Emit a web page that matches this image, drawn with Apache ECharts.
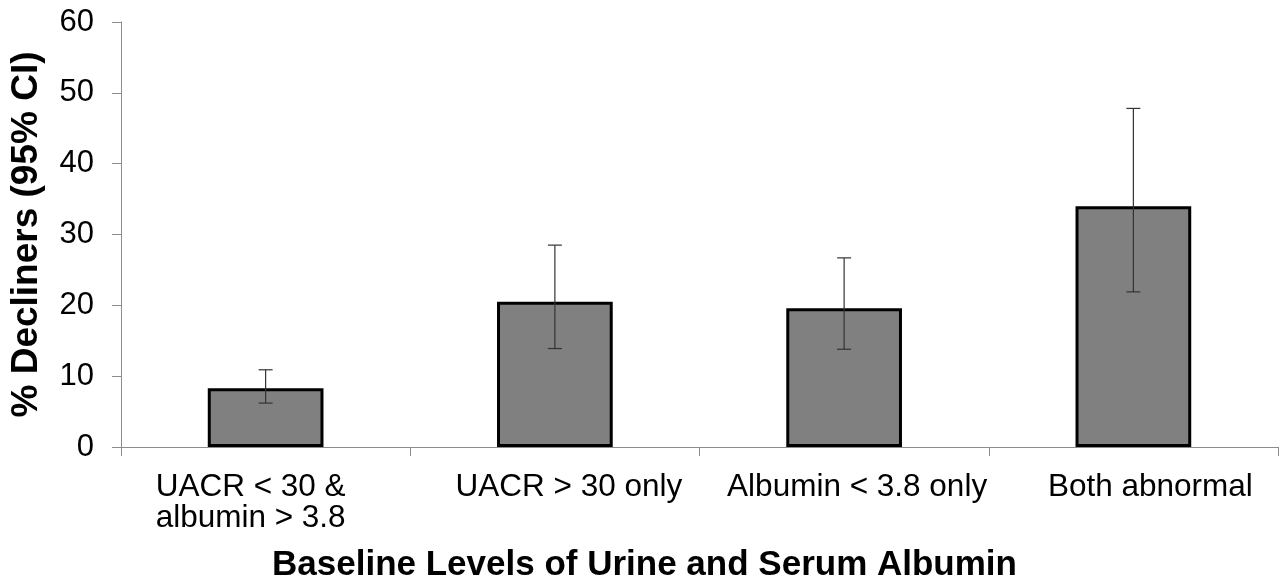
<!DOCTYPE html>
<html><head><meta charset="utf-8">
<script src="https://cdn.jsdelivr.net/npm/echarts@6/dist/echarts.min.js"></script>
<style>html,body{margin:0;padding:0;background:#fff}#c{width:1288px;height:584px}</style>
</head><body><div id="c"></div>
<script>
var categories = ['UACR < 30 &\nalbumin > 3.8', 'UACR > 30 only', 'Albumin < 3.8 only', 'Both abnormal'];
var values = [8.3, 20.5, 19.6, 34.0];
var ciLow = [6.2, 13.9, 13.8, 21.9];
var ciHigh = [10.9, 28.5, 26.7, 47.8];
var yTicks = {min: 0, max: 60, interval: 10};

// layout: horizontal nudge of each category label (px), as in the original figure
var labelShift = [-15, 14, 13, 17];

var font = '"Liberation Sans", Arial, sans-serif';
var axisGray = '#8c8c8c';
var chart = echarts.init(document.getElementById('c'));
chart.setOption({
  animation: false,
  grid: {left: 121, right: 10, top: 22, bottom: 137, containLabel: false, outerBoundsMode: 'none'},
  xAxis: {
    type: 'category',
    data: categories.map(function (c, i) {
      var s = labelShift[i];
      return {value: c, textStyle: {padding: s >= 0 ? [0, 0, 0, 2 * s] : [0, -2 * s, 0, 0]}};
    }),
    axisLine: {lineStyle: {color: axisGray, width: 1}},
    axisTick: {show: true, length: 9, lineStyle: {color: axisGray}},
    axisLabel: {color: '#000', fontSize: 31.5, fontFamily: font, margin: 25, lineHeight: 31, interval: 0},
    name: 'Baseline Levels of Urine and Serum Albumin',
    nameLocation: 'middle', nameGap: 101,
    nameTextStyle: {color: '#000', fontSize: 35, fontWeight: 'bold', fontFamily: font, padding: [0, 110, 0, 0]}
  },
  yAxis: {
    type: 'value', min: yTicks.min, max: yTicks.max, interval: yTicks.interval,
    splitLine: {show: false},
    axisLine: {show: true, lineStyle: {color: axisGray, width: 1}},
    axisTick: {show: true, length: 9, lineStyle: {color: axisGray}},
    axisLabel: {color: '#000', fontSize: 31, fontFamily: font, margin: 27},
    name: '% Decliners (95% CI)', nameLocation: 'middle', nameGap: 76,
    nameTextStyle: {color: '#000', fontSize: 37, fontWeight: 'bold', fontFamily: font}
  },
  series: [{
    type: 'bar', data: values, barWidth: '40%',
    itemStyle: {color: '#808080', borderColor: '#000', borderWidth: 3}
  }, {
    type: 'custom',
    data: categories.map(function (c, i) { return [i, ciLow[i], ciHigh[i]]; }),
    renderItem: function (params, api) {
      var x = api.value(0);
      var lo = api.coord([x, api.value(1)]);
      var hi = api.coord([x, api.value(2)]);
      var hw = 7;
      var style = {stroke: '#333', lineWidth: 1.2};
      return {type: 'group', children: [
        {type: 'line', shape: {x1: lo[0], y1: lo[1], x2: hi[0], y2: hi[1]}, style: style},
        {type: 'line', shape: {x1: lo[0] - hw, y1: lo[1], x2: lo[0] + hw, y2: lo[1]}, style: style},
        {type: 'line', shape: {x1: hi[0] - hw, y1: hi[1], x2: hi[0] + hw, y2: hi[1]}, style: style}
      ]};
    },
    z: 10
  }]
});
</script></body></html>
